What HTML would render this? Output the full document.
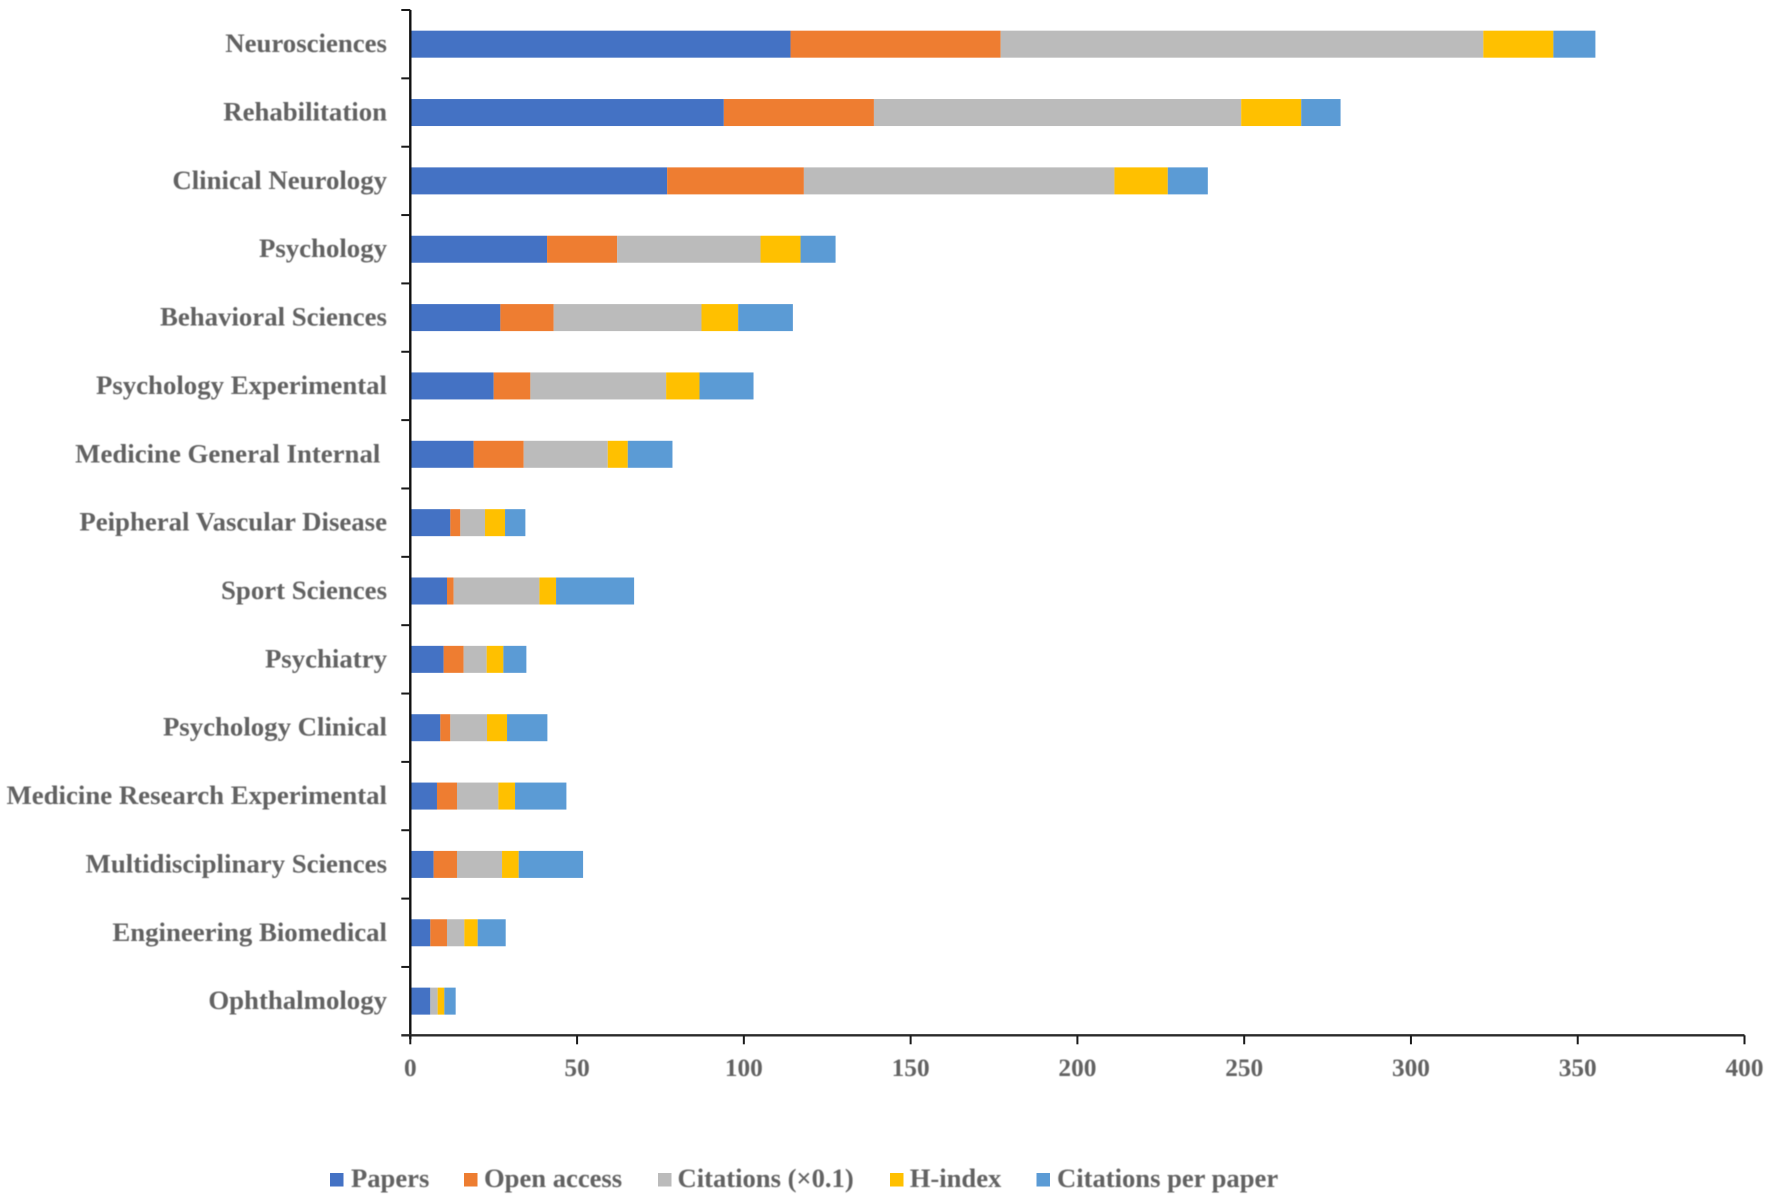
<!DOCTYPE html>
<html lang="en">
<head>
<meta charset="utf-8">
<title>Stacked bars by research category</title>
<style>
html,body{margin:0;padding:0;background:#fff;}
#chart{display:block;width:1772px;height:1200px;}
#chart text{font-family:"Liberation Serif",serif;font-weight:700;fill:#626262;font-size:26.8px;}
#chart #xlabels text{font-size:25.3px;}
#chart #legend text{font-size:26.6px;}
.soft{filter:blur(0.5px);}
</style>
</head>
<body>
<svg id="chart" xmlns="http://www.w3.org/2000/svg" width="1772" height="1200" viewBox="0 0 1772 1200">
  <rect x="0" y="0" width="1772" height="1200" fill="#ffffff"/>
  <g id="bars"></g>
  <g id="axes"></g>
  <g id="ylabels" class="soft"></g>
  <g id="xlabels" class="soft"></g>
  <g id="legend">
    <g>
      <rect x="330" y="1173" width="13.5" height="13.5" fill="#4472C4"/>
      <text class="soft" x="351" y="1187">Papers</text>
    </g>
    <g>
      <rect x="464" y="1173" width="13.5" height="13.5" fill="#ED7D31"/>
      <text class="soft" x="484" y="1187">Open access</text>
    </g>
    <g>
      <rect x="658" y="1173" width="13.5" height="13.5" fill="#BBBBBB"/>
      <text class="soft" x="677.5" y="1187">Citations (×0.1)</text>
    </g>
    <g>
      <rect x="890" y="1173" width="13.5" height="13.5" fill="#FFC000"/>
      <text class="soft" x="909.7" y="1187">H-index</text>
    </g>
    <g>
      <rect x="1036.5" y="1173" width="13.5" height="13.5" fill="#5B9BD5"/>
      <text class="soft" x="1057" y="1187">Citations per paper</text>
    </g>
  </g>
</svg>
<script>
const categories = ["Neurosciences","Rehabilitation","Clinical Neurology","Psychology","Behavioral Sciences","Psychology Experimental","Medicine General Internal ","Peipheral Vascular Disease","Sport Sciences","Psychiatry","Psychology Clinical","Medicine Research Experimental","Multidisciplinary Sciences","Engineering Biomedical","Ophthalmology"];
const papers = [114,94,77,41,27,25,19,12,11,10,9,8,7,6,6];
const openAccess = [63,45,41,21,16,11,15,3,2,6,3,6,7,5,0];
const citations = [144.7,110.1,93.1,43,44.3,40.7,25.2,7.4,25.7,6.9,11,12.4,13.5,5.2,2.2];
const hIndex = [21,18,16,12,11,10,6,6,5,5,6,5,5,4,2];
const citationsPerPaper = [12.6,11.8,12,10.5,16.4,16.2,13.4,6.1,23.4,6.9,12.1,15.4,19.3,8.4,3.4];
const xTicks = [0,50,100,150,200,250,300,350,400];

const SVG_NS = "http://www.w3.org/2000/svg";
const plot = {left: 410.3, right: 1744.5, top: 10, bottom: 1035.3};
const xMax = 400;
const barHeight = 27;

function xScale(v){ return plot.left + (v / xMax) * (plot.right - plot.left); }
function bandStep(){ return (plot.bottom - plot.top) / categories.length; }
function yCenter(i){ return plot.top + bandStep() * (i + 0.5); }
function yEdge(i){ return plot.top + bandStep() * i; }

function make(tag, attrs, parent){
  const el = document.createElementNS(SVG_NS, tag);
  for (const k in attrs) el.setAttribute(k, attrs[k]);
  parent.appendChild(el);
  return el;
}

const seriesList = [
  {key: "papers", values: papers, color: "#4472C4"},
  {key: "open-access", values: openAccess, color: "#EE7D31"},
  {key: "citations", values: citations, color: "#BBBBBB"},
  {key: "h-index", values: hIndex, color: "#FFC000"},
  {key: "citations-per-paper", values: citationsPerPaper, color: "#5B9BD5"}
];

const barsG = document.getElementById("bars");
const axesG = document.getElementById("axes");
const yLabelsG = document.getElementById("ylabels");
const xLabelsG = document.getElementById("xlabels");

categories.forEach(function(name, i){
  let cum = 0;
  seriesList.forEach(function(s){
    const v = s.values[i];
    const rect = make("rect", {
      x: xScale(cum),
      y: yCenter(i) - barHeight / 2,
      width: xScale(cum + v) - xScale(cum),
      height: barHeight,
      fill: s.color
    }, barsG);
    
    
    rect.setAttribute('data-series', s.key);
    cum += v;
  });
  const label = make("text", {
    x: 387,
    y: yCenter(i) + 8,
    "text-anchor": "end"
  }, yLabelsG);
  label.style.whiteSpace = "pre";
  label.textContent = name;
  
  
});

const yAxis = make("line", {x1: plot.left, x2: plot.left, y1: plot.top, y2: plot.bottom + 4, stroke: "#111111", "stroke-width": 2.4}, axesG);



const xAxis = make("line", {x1: plot.left - 9, x2: plot.right, y1: plot.bottom, y2: plot.bottom, stroke: "#2a2a2a", "stroke-width": 2.4}, axesG);



for (let i = 0; i < categories.length; i++) {
  const tick = make("line", {x1: plot.left - 9, x2: plot.left, y1: yEdge(i), y2: yEdge(i), stroke: "#1a1a1a", "stroke-width": 2}, axesG);
  
  
}

xTicks.forEach(function(t){
  const tick = make("line", {x1: xScale(t), x2: xScale(t), y1: plot.bottom, y2: plot.bottom + 9, stroke: "#1a1a1a", "stroke-width": 2}, axesG);
  
  
  const label = make("text", {x: xScale(t), y: 1076, "text-anchor": "middle"}, xLabelsG);
  label.textContent = String(t);
  
  
});
</script>
</body>
</html>
